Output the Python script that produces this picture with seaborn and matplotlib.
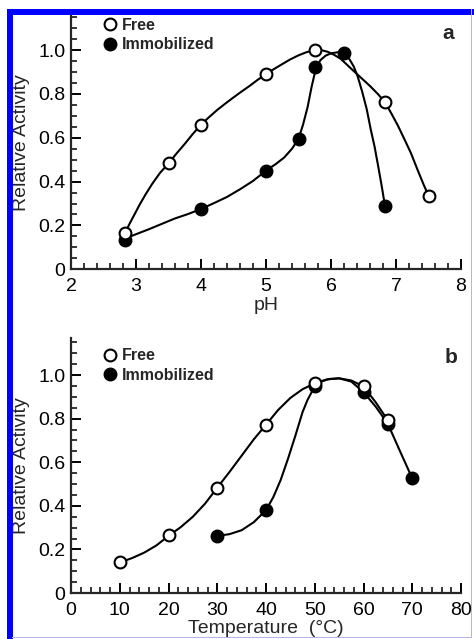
import numpy as np
import pandas as pd
import matplotlib
matplotlib.use('Agg')
import matplotlib.pyplot as plt
import seaborn as sns
from matplotlib.lines import Line2D
from matplotlib.patches import Rectangle
from matplotlib.ticker import MultipleLocator, FuncFormatter

ph_free = [2.83, 3.5, 4.0, 5.0, 5.75, 6.83, 7.5]
ph_free_act = [0.165, 0.485, 0.66, 0.89, 1.0, 0.765, 0.335]
ph_imm = [2.83, 4.0, 5.0, 5.5, 5.75, 6.2, 6.83]
ph_imm_act = [0.135, 0.275, 0.45, 0.595, 0.925, 0.985, 0.29]

temp_free = [10, 20, 30, 40, 50, 60, 65]
temp_free_act = [0.14, 0.265, 0.483, 0.772, 0.962, 0.948, 0.792]
temp_imm = [30, 40, 50, 60, 65, 70]
temp_imm_act = [0.262, 0.38, 0.948, 0.92, 0.775, 0.526]

# --- hand-drawn trend curves ---
ph_free_curve_x = [2.83, 2.9, 2.98, 3.06, 3.15, 3.25, 3.37, 3.5, 3.62, 3.75, 3.87, 4.0, 4.12,
                   4.25, 4.37, 4.5, 4.62, 4.75, 4.87, 5.0, 5.12, 5.25, 5.37, 5.5, 5.62, 5.75,
                   5.85, 5.95, 6.05, 6.15, 6.3, 6.45, 6.6, 6.72, 6.83, 6.93, 7.03, 7.13, 7.23,
                   7.33, 7.42, 7.5]
ph_free_curve_y = [0.165, 0.207, 0.252, 0.297, 0.343, 0.39, 0.44, 0.483, 0.527, 0.572, 0.616,
                   0.66, 0.693, 0.727, 0.755, 0.784, 0.81, 0.837, 0.864, 0.89, 0.913, 0.936,
                   0.957, 0.976, 0.99, 1.0, 1.0, 0.992, 0.978, 0.96, 0.918, 0.877, 0.836, 0.8,
                   0.763, 0.71, 0.655, 0.593, 0.53, 0.455, 0.39, 0.335]
ph_imm_curve_x = [2.83, 3.0, 3.2, 3.42, 3.6, 3.8, 4.0, 4.2, 4.4, 4.6, 4.8, 5.0, 5.15, 5.28,
                  5.4, 5.5, 5.57, 5.64, 5.7, 5.77, 5.84, 5.92, 6.0, 6.1, 6.2, 6.28, 6.35,
                  6.41, 6.48, 6.55, 6.61, 6.67, 6.72, 6.78, 6.83]
ph_imm_curve_y = [0.14, 0.16, 0.183, 0.21, 0.232, 0.252, 0.275, 0.302, 0.33, 0.365, 0.403,
                  0.45, 0.48, 0.51, 0.55, 0.595, 0.66, 0.74, 0.83, 0.92, 0.955, 0.975, 0.985,
                  0.99, 0.985, 0.96, 0.925, 0.88, 0.81, 0.73, 0.64, 0.56, 0.48, 0.38, 0.29]

temp_free_curve_x = [10, 12.5, 15, 17.5, 20, 22.5, 25, 27.5, 30, 32.5, 35, 37.5, 40, 42.5, 45,
                     47.5, 50, 52.5, 55, 57.5, 60, 62.5, 65]
temp_free_curve_y = [0.14, 0.16, 0.185, 0.218, 0.262, 0.302, 0.35, 0.41, 0.483, 0.555, 0.63,
                     0.705, 0.772, 0.84, 0.895, 0.935, 0.962, 0.98, 0.985, 0.975, 0.948, 0.875,
                     0.792]
temp_imm_curve_x = [30, 32.5, 35, 37.5, 40, 41.5, 43, 44.5, 46, 47.5, 48.5, 50, 51.5, 53, 55,
                    57.5, 60, 62.5, 65, 67.5, 70]
temp_imm_curve_y = [0.262, 0.27, 0.288, 0.325, 0.38, 0.44, 0.518, 0.615, 0.72, 0.83, 0.885,
                    0.948, 0.972, 0.982, 0.985, 0.97, 0.922, 0.855, 0.776, 0.65, 0.526]

sns.set_style('ticks')
plt.rcParams['font.family'] = ['Liberation Sans', 'DejaVu Sans']

fig = plt.figure(figsize=(4.74, 6.39), dpi=100)
W, H = 474.0, 639.0


def px_axes(left, right, top, bottom):
    return fig.add_axes([left / W, 1 - bottom / H, (right - left) / W, (bottom - top) / H])


ax_a = px_axes(71, 461, 15, 269.3)
ax_b = px_axes(71, 461, 338, 593)

LW = 1.5
MS = 8.5


def draw_panel(ax, cx1, cy1, cx2, cy2, px1, py1, px2, py2):
    sns.lineplot(x=cx1, y=cy1, ax=ax, color='black', lw=LW, sort=False, estimator=None)
    sns.lineplot(x=cx2, y=cy2, ax=ax, color='black', lw=LW, sort=False, estimator=None)
    ax.plot(px2, py2, 'o', ms=MS, mfc='black', mec='black', mew=1.5, zorder=5)
    ax.plot(px1, py1, 'o', ms=MS, mfc='white', mec='black', mew=1.5, zorder=6)


draw_panel(ax_a, ph_free_curve_x, ph_free_curve_y, ph_imm_curve_x, ph_imm_curve_y,
           ph_free, ph_free_act, ph_imm, ph_imm_act)
draw_panel(ax_b, temp_free_curve_x, temp_free_curve_y, temp_imm_curve_x, temp_imm_curve_y,
           temp_free, temp_free_act, temp_imm, temp_imm_act)

ytick_fmt = FuncFormatter(lambda v, p: '0' if abs(v) < 1e-9 else f'{v:.1f}')

for ax, xlim, ylim, xmaj, xmin, xlabel, xpad, letter, lx, ly, legy in [
        (ax_a, (2, 8), (0, 1.16), 1, 0.2, 'pH', 1, 'a', 0.967, 0.929, 0.99),
        (ax_b, (0, 80), (0, 1.17), 10, 2, 'Temperature  (°C)', 1, 'b', 0.975, 0.925, 0.96)]:
    ax.set_xlim(*xlim)
    ax.set_ylim(*ylim)
    ax.xaxis.set_major_locator(MultipleLocator(xmaj))
    ax.xaxis.set_minor_locator(MultipleLocator(xmin))
    ax.yaxis.set_major_locator(MultipleLocator(0.2))
    ax.yaxis.set_minor_locator(MultipleLocator(0.05))
    ax.yaxis.set_major_formatter(ytick_fmt)
    for side in ['top', 'right']:
        ax.spines[side].set_visible(False)
    for side in ['left', 'bottom']:
        ax.spines[side].set_linewidth(1.6)
    ax.tick_params(which='major', direction='in', length=7.5, width=1.4, labelsize=14,
                   colors='black')
    ax.tick_params(which='minor', direction='in', length=4, width=1.3)
    ax.tick_params(axis='x', which='major', pad=6.5)
    ax.tick_params(axis='y', which='major', pad=4)
    ax.set_xlabel(xlabel, fontsize=14, labelpad=xpad)
    ax.set_ylabel('Relative Activity', fontsize=14, labelpad=6)
    ax.text(lx, ly, letter, transform=ax.transAxes, fontsize=15, fontweight='bold',
            ha='center', va='center')
    handles = [Line2D([], [], marker='o', ls='none', ms=MS, mfc='white', mec='black', mew=1.5),
               Line2D([], [], marker='o', ls='none', ms=MS, mfc='black', mec='black', mew=1.5)]
    ax.legend(handles, ['Free', 'Immobilized'], loc='upper left', bbox_to_anchor=(0.079, legy),
              frameon=False, borderpad=0, borderaxespad=0, handlelength=1.0,
              handletextpad=0.25, labelspacing=0.3,
              prop={'size': 11.5, 'weight': 'bold'})

# blue frame around the figure
blue = (0, 0, 1)
fig.add_artist(Rectangle((7 / W, 0), 5.7 / W, 1 - 9 / H, transform=fig.transFigure,
                         color=blue, lw=0, zorder=10))
fig.add_artist(Rectangle((7 / W, 1 - 15 / H), 1 - 7 / W, 6 / H, transform=fig.transFigure,
                         color=blue, lw=0, zorder=10))
fig.add_artist(Rectangle((470.5 / W, 1 - 637.5 / H), 1 / W, 628.5 / H, transform=fig.transFigure,
                         color='#b4b4e6', lw=0, zorder=10))
fig.add_artist(Rectangle((12 / W, 1 - 637.5 / H), 459 / W, 1 / H, transform=fig.transFigure,
                         color='#b4b4e6', lw=0, zorder=10))

fig.savefig('out.png', dpi=100, facecolor='white')
